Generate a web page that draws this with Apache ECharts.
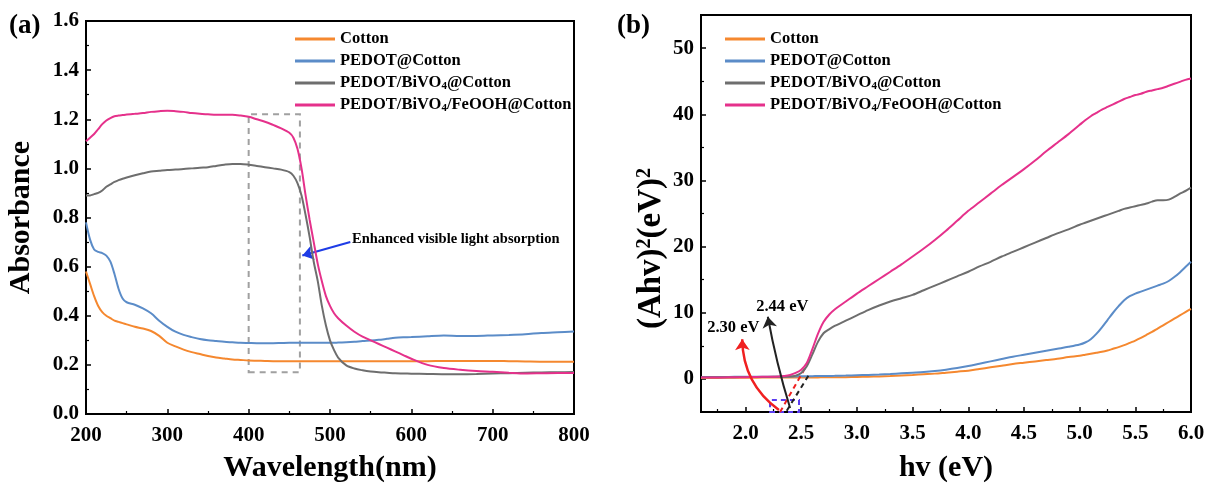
<!DOCTYPE html>
<html>
<head>
<meta charset="utf-8">
<script src="https://cdn.jsdelivr.net/npm/echarts@6/dist/echarts.min.js"></script>
<style>html,body{margin:0;padding:0;background:#fff}#c{width:1215px;height:483px}</style>
</head>
<body>
<div id="c"></div>
<script>
// ---------- Panel (a): absorbance vs wavelength ----------
const waveA = [200,205,210,215,220,225,230,235,240,245,250,260,270,280,290,300,310,320,330,340,350,360,370,380,390,400,410,420,430,440,450,455,460,465,470,475,480,485,490,495,500,505,510,520,530,540,550,560,570,580,590,600,620,640,660,680,700,720,740,760,780,800];
const cottonA = [0.58,0.53,0.48,0.44,0.415,0.40,0.39,0.38,0.375,0.37,0.365,0.355,0.348,0.338,0.318,0.29,0.275,0.262,0.252,0.244,0.236,0.230,0.226,0.222,0.220,0.218,0.217,0.216,0.215,0.215,0.215,0.215,0.215,0.215,0.215,0.215,0.215,0.215,0.215,0.215,0.215,0.215,0.215,0.215,0.215,0.215,0.215,0.215,0.215,0.215,0.215,0.215,0.215,0.216,0.216,0.216,0.216,0.215,0.214,0.213,0.213,0.213];
const pedotA = [0.78,0.71,0.67,0.66,0.655,0.645,0.62,0.57,0.51,0.47,0.455,0.445,0.43,0.41,0.38,0.355,0.335,0.322,0.313,0.305,0.30,0.297,0.294,0.292,0.29,0.289,0.288,0.288,0.288,0.289,0.29,0.29,0.29,0.29,0.29,0.29,0.29,0.29,0.29,0.29,0.29,0.29,0.291,0.292,0.294,0.297,0.299,0.302,0.306,0.31,0.312,0.313,0.317,0.32,0.318,0.318,0.32,0.322,0.325,0.33,0.333,0.336];
const bivoA = [0.89,0.89,0.895,0.90,0.91,0.925,0.935,0.945,0.952,0.958,0.963,0.972,0.98,0.987,0.99,0.993,0.995,0.997,1.0,1.003,1.005,1.01,1.015,1.018,1.018,1.015,1.01,1.005,1.0,0.995,0.985,0.97,0.94,0.89,0.81,0.72,0.62,0.54,0.44,0.36,0.30,0.26,0.23,0.198,0.185,0.178,0.173,0.170,0.168,0.166,0.165,0.164,0.163,0.162,0.162,0.163,0.165,0.166,0.168,0.169,0.17,0.171];
const feoohA = [1.11,1.125,1.14,1.16,1.18,1.195,1.205,1.212,1.215,1.217,1.219,1.222,1.225,1.23,1.233,1.235,1.233,1.23,1.225,1.222,1.22,1.218,1.218,1.218,1.215,1.21,1.2,1.19,1.177,1.163,1.145,1.125,1.08,1.0,0.89,0.79,0.70,0.61,0.54,0.48,0.44,0.41,0.39,0.36,0.335,0.315,0.30,0.285,0.27,0.255,0.24,0.225,0.20,0.187,0.18,0.175,0.172,0.168,0.165,0.166,0.167,0.167];
const ticksA_x = {min:200, max:800, interval:100};
const ticksA_y = {min:0, max:1.6, interval:0.2};
const boxA = [[400,0.17],[463,1.22]];
const arrowA = [[525,0.70],[466,0.645]];
const noteA = {at:[527,0.712], text:'Enhanced visible light absorption'};

// ---------- Panel (b): Tauc plot ----------
const hvB = [1.6,1.7,1.8,1.9,2.0,2.1,2.2,2.3,2.35,2.4,2.45,2.5,2.55,2.6,2.65,2.7,2.75,2.8,2.9,3.0,3.1,3.2,3.3,3.4,3.5,3.6,3.7,3.8,3.9,4.0,4.1,4.2,4.3,4.4,4.5,4.6,4.7,4.8,4.9,5.0,5.05,5.1,5.15,5.2,5.25,5.3,5.35,5.4,5.45,5.5,5.55,5.6,5.65,5.7,5.75,5.8,5.85,5.9,5.95,6.0];
const cottonB = [0.15,0.15,0.16,0.17,0.18,0.19,0.2,0.2,0.2,0.21,0.21,0.22,0.22,0.23,0.23,0.24,0.24,0.25,0.27,0.3,0.34,0.38,0.44,0.52,0.6,0.7,0.8,0.95,1.1,1.25,1.5,1.75,2.0,2.25,2.45,2.65,2.85,3.05,3.3,3.5,3.65,3.8,3.95,4.1,4.3,4.55,4.8,5.1,5.45,5.8,6.2,6.65,7.1,7.6,8.1,8.6,9.1,9.6,10.1,10.6];
const pedotB = [0.3,0.3,0.3,0.31,0.32,0.33,0.34,0.35,0.36,0.37,0.38,0.4,0.41,0.42,0.43,0.44,0.45,0.46,0.5,0.55,0.6,0.67,0.75,0.85,0.95,1.05,1.2,1.4,1.65,1.95,2.3,2.65,3.0,3.35,3.65,3.95,4.25,4.55,4.85,5.2,5.5,6.0,6.8,7.8,8.9,10.0,11.0,11.9,12.5,12.9,13.2,13.5,13.8,14.1,14.4,14.8,15.4,16.1,16.9,17.7];
const bivoB = [0.25,0.25,0.26,0.27,0.28,0.29,0.3,0.32,0.33,0.35,0.5,0.9,1.9,3.7,5.6,6.9,7.5,8.0,8.8,9.6,10.4,11.1,11.7,12.2,12.7,13.4,14.1,14.8,15.5,16.2,17.0,17.7,18.5,19.2,19.9,20.6,21.3,22.0,22.6,23.3,23.6,23.9,24.2,24.5,24.8,25.1,25.4,25.7,25.9,26.1,26.3,26.5,26.8,27.0,27.0,27.1,27.5,28.0,28.4,28.9];
const feoohB = [0.2,0.2,0.22,0.25,0.27,0.3,0.33,0.38,0.45,0.6,0.9,1.4,2.4,4.5,6.8,8.6,9.7,10.5,11.7,12.9,14.0,15.1,16.2,17.3,18.5,19.7,21.0,22.4,23.9,25.4,26.7,28.0,29.3,30.5,31.7,33.0,34.4,35.7,37.0,38.4,39.1,39.7,40.2,40.7,41.1,41.5,41.9,42.3,42.6,42.9,43.1,43.4,43.6,43.8,44.0,44.3,44.6,44.9,45.2,45.4];
const rangeB_x = {min:1.6, max:6.0};
const rangeB_y = {min:-5, max:55};
const tangentRed = [[2.31,-5],[2.56,2.4]];
const tangentBlack = [[2.37,-4.8],[2.58,0.9]];
const arrowRed = [[2.30,-4.7],[1.97,6.0]];
const arrowBlack = [[2.40,-4.4],[2.20,9.4]];
const boxB = [[2.22,-5],[2.48,-3.2]];
const labelRed = {at:[1.89,7.8], text:'2.30 eV'};
const labelBlack = {at:[2.33,10.9], text:'2.44 eV'};

const names = ['Cotton','PEDOT@Cotton','PEDOT/BiVO4@Cotton','PEDOT/BiVO4/FeOOH@Cotton'];
const colors = ['#F5882F','#5B8CC8','#6E6E6E','#E5318B'];

const FONT = 'Liberation Serif';
const zip = (xs, ys) => xs.map((x, i) => [x, ys[i]]);
const subFmt = n => n.replace('BiVO4', 'BiVO{s|4}');

function axisCommon(margin) {
  return {
    axisLine: {show: true, onZero: false, lineStyle: {color: '#000', width: 2}},
    axisTick: {show: true, inside: true, length: 5, lineStyle: {color: '#000', width: 1.5}},
    minorTick: {show: true, splitNumber: 2, length: 3, lineStyle: {color: '#000', width: 1.2}},
    splitLine: {show: false},
    axisLabel: {color: '#000', fontFamily: FONT, fontWeight: 'bold', fontSize: 21, margin: margin},
    nameTextStyle: {color: '#000', fontFamily: FONT, fontWeight: 'bold', fontSize: 30},
    nameLocation: 'middle'
  };
}

const legendBase = {
  orient: 'vertical', itemWidth: 40, itemHeight: 3, itemGap: 4, icon: 'rect',
  data: names, formatter: subFmt,
  textStyle: {color: '#000', fontFamily: FONT, fontWeight: 'bold', fontSize: 16.5, lineHeight: 18,
    rich: {s: {fontFamily: FONT, fontWeight: 'bold', fontSize: 11, verticalAlign: 'bottom', lineHeight: 12}}}
};

const lineStyleAnno = (c, t) => ({color: c, width: 2, type: t});

function seriesSet(xs, arrs, xi, extras) {
  return arrs.map((arr, i) => Object.assign({
    name: names[i], type: 'line', xAxisIndex: xi, yAxisIndex: xi,
    data: zip(xs, arr), showSymbol: false, symbol: 'none', smooth: 0.3,
    lineStyle: {color: colors[i], width: 2}, itemStyle: {color: colors[i]}, z: 3 + i
  }, extras[i] || {}));
}

const textLabel = (size) => ({color: '#000', fontFamily: FONT, fontWeight: 'bold', fontSize: size});

const seriesA = seriesSet(waveA, [cottonA, pedotA, bivoA, feoohA], 0, {
  2: {
    markArea: {silent: true, itemStyle: {color: 'rgba(0,0,0,0)', borderColor: '#A0A0A0', borderWidth: 2, borderType: [6, 5]},
      data: [[{coord: boxA[0]}, {coord: boxA[1]}]]},
    markLine: {silent: true, symbol: ['none', 'arrow'], symbolSize: 11, label: {show: false},
      lineStyle: lineStyleAnno('#1E3CE6', 'solid'),
      data: [[{coord: arrowA[0]}, {coord: arrowA[1]}]]},
    markPoint: {silent: true, symbol: 'circle', symbolSize: 0,
      data: [{coord: noteA.at, label: Object.assign({show: true, position: 'right', distance: 0, formatter: noteA.text}, textLabel(14.5))}]}
  }
});

const seriesB = seriesSet(hvB, [cottonB, pedotB, bivoB, feoohB], 1, {
  3: {
    markLine: {silent: true, label: {show: false}, symbol: ['none', 'none'],
      data: [
        [{coord: tangentRed[0], lineStyle: lineStyleAnno('#F02020', [5, 4])}, {coord: tangentRed[1]}]
      ]}
  },
  2: {
    markLine: {silent: true, label: {show: false}, symbol: ['none', 'none'],
      data: [
        [{coord: tangentBlack[0], lineStyle: lineStyleAnno('#222', [5, 4])}, {coord: tangentBlack[1]}]
      ]}
  },
  1: {
    markArea: {silent: true, itemStyle: {color: 'rgba(0,0,0,0)', borderColor: '#5A3CF0', borderWidth: 2, borderType: [5, 4]},
      data: [[{coord: boxB[0]}, {coord: boxB[1]}]]}
  },
  0: {
    markPoint: {silent: true, symbol: 'circle', symbolSize: 0,
      data: [
        {coord: labelRed.at, label: Object.assign({show: true, position: 'inside', formatter: labelRed.text}, textLabel(16.5))},
        {coord: labelBlack.at, label: Object.assign({show: true, position: 'inside', formatter: labelBlack.text}, textLabel(16.5))}
      ]}
  }
});

const arrowSeries = [
  {type: 'lines', coordinateSystem: 'cartesian2d', xAxisIndex: 1, yAxisIndex: 1, silent: true, z: 10,
   symbol: ['none', 'arrow'], symbolSize: 11,
   lineStyle: {color: '#F02020', width: 2.5, type: 'solid', curveness: 0.25, opacity: 1},
   data: [{coords: arrowRed}]},
  {type: 'lines', coordinateSystem: 'cartesian2d', xAxisIndex: 1, yAxisIndex: 1, silent: true, z: 10,
   symbol: ['none', 'arrow'], symbolSize: 11,
   lineStyle: {color: '#222', width: 2, type: 'solid', curveness: 0.03, opacity: 1},
   data: [{coords: arrowBlack}]}
];

const chart = echarts.init(document.getElementById('c'), null, {renderer: 'canvas'});
chart.setOption({
  backgroundColor: '#fff',
  animation: false,
  title: [
    {text: '(a)', left: 4, top: 8, textStyle: {color: '#000', fontFamily: FONT, fontWeight: 'bold', fontSize: 27}},
    {text: '(b)', left: 612, top: 8, textStyle: {color: '#000', fontFamily: FONT, fontWeight: 'bold', fontSize: 27}}
  ],
  legend: [
    Object.assign({left: 290, top: 25}, legendBase),
    Object.assign({left: 720, top: 25}, legendBase)
  ],
  grid: [
    {left: 86, top: 21, width: 488, height: 393, show: true, borderColor: '#000', borderWidth: 2, backgroundColor: 'transparent', outerBoundsMode: 'none', containLabel: false},
    {left: 701, top: 15, width: 490, height: 397, show: true, borderColor: '#000', borderWidth: 2, backgroundColor: 'transparent', outerBoundsMode: 'none', containLabel: false}
  ],
  xAxis: [
    Object.assign(axisCommon(11), {type: 'value', gridIndex: 0, min: ticksA_x.min, max: ticksA_x.max, interval: ticksA_x.interval,
      name: 'Wavelength(nm)', nameGap: 39}),
    Object.assign(axisCommon(11), {type: 'value', gridIndex: 1, min: rangeB_x.min, max: rangeB_x.max, splitNumber: 9,
      name: 'hv (eV)', nameGap: 41})
  ],
  yAxis: [
    Object.assign(axisCommon(7), {type: 'value', gridIndex: 0, min: ticksA_y.min, max: ticksA_y.max, interval: ticksA_y.interval,
      name: 'Absorbance', nameGap: 50}),
    Object.assign(axisCommon(7), {type: 'value', gridIndex: 1, min: rangeB_y.min, max: rangeB_y.max, splitNumber: 6,
      name: '(Ahv){s|2}(eV){s|2}', nameGap: 33,
      nameTextStyle: {color: '#000', fontFamily: FONT, fontWeight: 'bold', fontSize: 33, padding: [0, 70, 0, 0],
        rich: {s: {fontFamily: FONT, fontWeight: 'bold', fontSize: 20, verticalAlign: 'top', lineHeight: 20}}}})
  ],
  series: seriesA.concat(seriesB, arrowSeries)
});
chart.setOption({
  xAxis: [{}, {axisLabel: {showMinLabel: false, formatter: v => v.toFixed(1)}}],
  yAxis: [{axisLabel: {formatter: v => v.toFixed(1)}}, {axisLabel: {showMinLabel: false, showMaxLabel: false}}]
});
</script>
</body>
</html>
